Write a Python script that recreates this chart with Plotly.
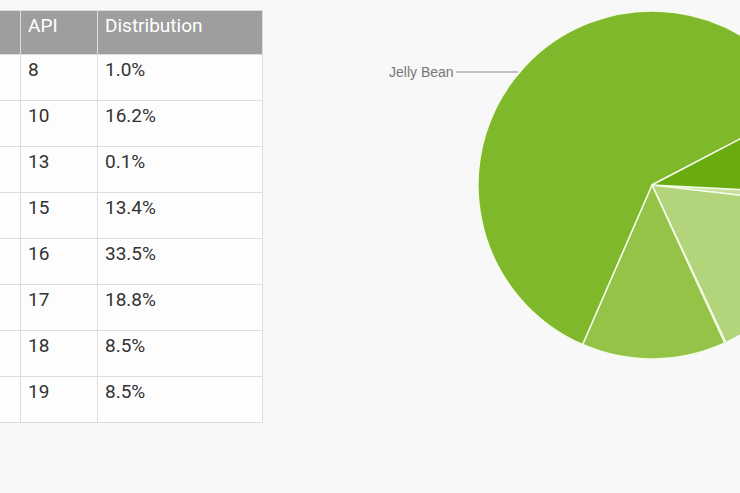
import plotly.graph_objects as go

# Table data (Android platform versions); the version/codename columns are scrolled out of view
row_spacer = ["", "<br> ", "", "<br> ", "", "", "", ""]
api_levels = ["8", "10", "13", "15", "16", "17", "18", "19"]
distribution = ["1.0%", "16.2%", "0.1%", "13.4%", "33.5%", "18.8%", "8.5%", "8.5%"]

# Pie data
pie_labels = ["Froyo", "Gingerbread", "Honeycomb", "Ice Cream Sandwich", "Jelly Bean", "KitKat"]
pie_values = [1.0, 16.2, 0.1, 13.4, 60.8, 8.5]
pie_colors = ["#c5e19a", "#b2d57c", "#a8cf6b", "#94c348", "#80b82b", "#6aab10"]

W, H = 1112, 493
shift = 260  # part of the figure scrolled out of view on the left
cx, cy, r = 652 + shift, 185, 174

fig = go.Figure()

fig.add_trace(go.Table(
    columnwidth=[280, 77, 165],
    header=dict(values=["", "API", "Distribution"],
                fill_color="#9e9e9e", line_color="#dddddd", align="left", height=44,
                font=dict(family="Roboto", size=19, color="white")),
    cells=dict(values=[row_spacer, api_levels, distribution],
               fill_color="#fdfdfd", line_color="#dddddd", align="left", height=46,
               font=dict(family="Roboto", size=19, color="#333333")),
    domain=dict(x=[0, 522 / W], y=[(H - 490) / H, (H - 10) / H]),
))

fig.add_trace(go.Pie(
    labels=pie_labels, values=pie_values, sort=False, direction="clockwise",
    rotation=93, textinfo="none", hoverinfo="label+percent",
    marker=dict(colors=pie_colors, line=dict(color="#f4fbe8", width=1.5)),
    domain=dict(x=[(cx - r) / W, (cx + r) / W], y=[(H - cy - r) / H, (H - cy + r) / H]),
    showlegend=False,
))

fig.add_annotation(
    x=(518 + shift) / W, y=(H - 72) / H, xref="paper", yref="paper",
    text="Jelly Bean", showarrow=True, arrowhead=0, arrowwidth=1, arrowcolor="#888888",
    ax=-62, ay=0, xanchor="right", font=dict(family="Arial", size=14, color="#777777"),
)

fig.update_layout(
    width=W, height=H, margin=dict(l=0, r=0, t=0, b=0),
    paper_bgcolor="#f8f8f8", plot_bgcolor="#f8f8f8",
)

fig.write_html(
    "out.html",
    post_script="document.body.style.margin='0';document.body.style.overflow='hidden';"
                "document.getElementById('{plot_id}').style.marginLeft='-" + str(shift) + "px';",
)
